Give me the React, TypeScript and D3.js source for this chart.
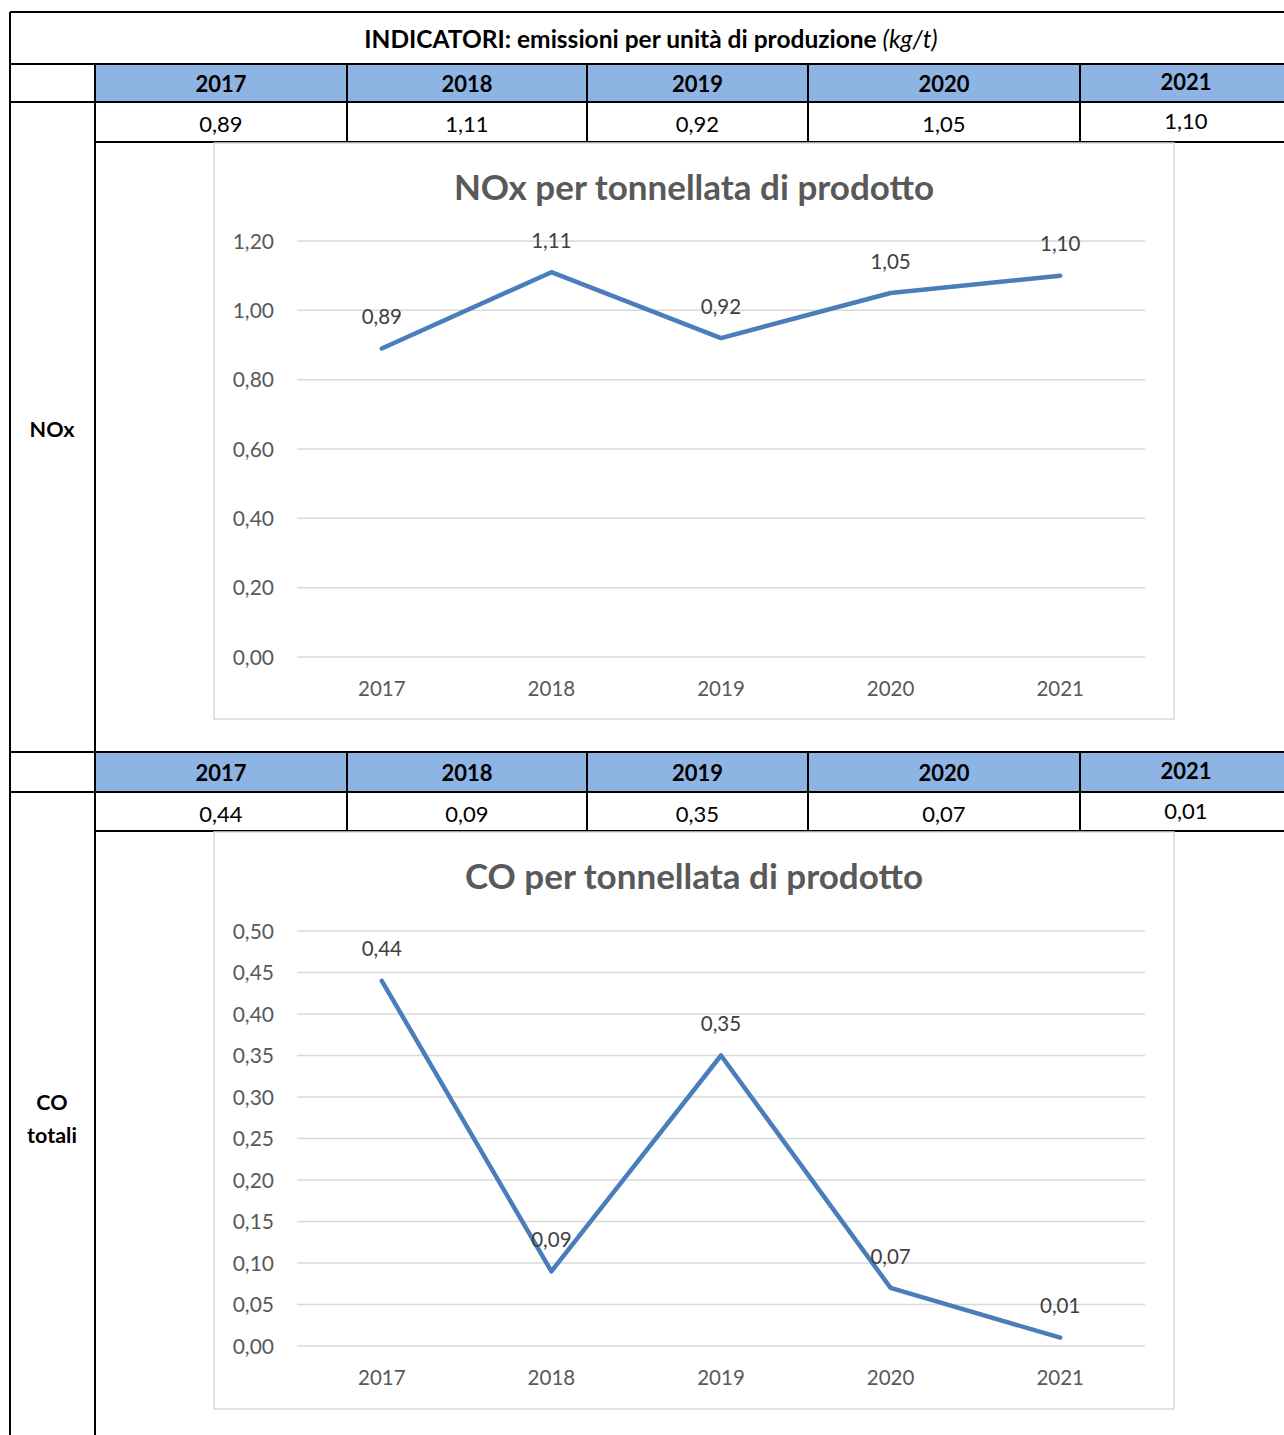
import React from "react";
import * as d3 from "d3";

// Years shown in both tables and on both chart x axes
const years = ["2017", "2018", "2019", "2020", "2021"];
// Emission indicators (kg/t)
const noxValues = [0.89, 1.11, 0.92, 1.05, 1.1];
const coValues = [0.44, 0.09, 0.35, 0.07, 0.01];
// Axis ticks
const noxTicks = [0, 0.2, 0.4, 0.6, 0.8, 1.0, 1.2];
const coTicks = [0, 0.05, 0.1, 0.15, 0.2, 0.25, 0.3, 0.35, 0.4, 0.45, 0.5];
// Texts
const tableTitle = "INDICATORI: emissioni per unità di produzione ";
const tableUnit = "(kg/t)";
const noxTitle = "NOx per tonnellata di prodotto";
const coTitle = "CO per tonnellata di prodotto";
const noxRowLabel = ["NOx"];
const coRowLabel = ["CO", "totali"];

const W = 1284;
const H = 1435;
const FONT = "Lato, 'Open Sans', sans-serif";
const LINE_BLUE = "#4a7ebb";
const HEADER_BLUE = "#8eb4e3";
const GRID = "#d9d9d9";
const AXIS_TEXT = "#595959";
// vertical nudge so that middle-anchored text sits on the row centres
const DY = 2.5;

const itLocale = d3.formatLocale({
  decimal: ",",
  thousands: ".",
  grouping: [3],
  currency: ["€", ""],
});
const fmt2 = itLocale.format(".2f");

// Column edges of the table (left label column + five year columns)
const colEdges = [10, 95, 347, 587, 808, 1080, 1292];

type ChartProps = {
  frame: { x: number; y: number; w: number; h: number };
  title: string;
  values: number[];
  ticks: number[];
  yMax: number;
  plotTop: number;
  plotBottom: number;
};

function LineChart({ frame, title, values, ticks, yMax, plotTop, plotBottom }: ChartProps) {
  const x = d3.scalePoint<string>().domain(years).range([297, 1145]).padding(0.5);
  const y = d3.scaleLinear().domain([0, yMax]).range([plotBottom, plotTop]);
  const line = d3
    .line<number>()
    .x((_, i) => x(years[i]) as number)
    .y((d) => y(d));
  return (
    <g>
      <rect
        x={frame.x}
        y={frame.y}
        width={frame.w}
        height={frame.h}
        fill="#fff"
        stroke={GRID}
        strokeWidth={1.5}
      />
      <text
        x={frame.x + frame.w / 2}
        y={frame.y + 45 + DY + 1}
        textAnchor="middle"
        dominantBaseline="middle"
        fontFamily={FONT}
        fontWeight={700}
        fontSize={35}
        fill={AXIS_TEXT}
      >
        {title}
      </text>
      {ticks.map((t) => (
        <g key={t}>
          <line x1={297} x2={1145} y1={y(t)} y2={y(t)} stroke={GRID} strokeWidth={1.5} />
          <text
            x={274}
            y={y(t) + DY}
            textAnchor="end"
            dominantBaseline="middle"
            fontFamily={FONT}
            fontSize={21}
            fill={AXIS_TEXT}
          >
            {fmt2(t)}
          </text>
        </g>
      ))}
      {years.map((yr) => (
        <text
          key={yr}
          x={x(yr)}
          y={plotBottom + 31 + DY}
          textAnchor="middle"
          dominantBaseline="middle"
          fontFamily={FONT}
          fontSize={20.5}
          fill={AXIS_TEXT}
        >
          {yr}
        </text>
      ))}
      <path
        d={line(values) || ""}
        fill="none"
        stroke={LINE_BLUE}
        strokeWidth={4.5}
        strokeLinejoin="round"
        strokeLinecap="round"
      />
      {values.map((v, i) => (
        <text
          key={i}
          x={x(years[i])}
          y={y(v) - 32 + DY}
          textAnchor="middle"
          dominantBaseline="middle"
          fontFamily={FONT}
          fontSize={20.5}
          fill="#404040"
        >
          {fmt2(v)}
        </text>
      ))}
    </g>
  );
}

type BlockProps = {
  headerTop: number;
  valTop: number;
  valBottom: number;
  blockBottom: number;
  values: number[];
  rowLabel: string[];
  labelY: number;
};

function TableBlock({ headerTop, valTop, valBottom, blockBottom, values, rowLabel, labelY }: BlockProps) {
  const mids = years.map((_, i) => (colEdges[i + 1] + colEdges[i + 2]) / 2);
  return (
    <g>
      <rect x={95} y={headerTop} width={W - 95} height={valTop - headerTop} fill={HEADER_BLUE} />
      {years.map((yr, i) => (
        <text
          key={yr}
          x={mids[i]}
          y={(headerTop + valTop) / 2 + 1 + DY - (i === 4 ? 2 : 0)}
          textAnchor="middle"
          dominantBaseline="middle"
          fontFamily={FONT}
          fontWeight={700}
          fontSize={22}
          fill="#000"
        >
          {yr}
        </text>
      ))}
      {values.map((v, i) => (
        <text
          key={i}
          x={mids[i]}
          y={(valTop + valBottom) / 2 + 2 + DY - (i === 4 ? 3 : 0)}
          textAnchor="middle"
          dominantBaseline="middle"
          fontFamily={FONT}
          fontSize={22}
          fill="#000"
        >
          {fmt2(v)}
        </text>
      ))}
      <line x1={10} x2={W} y1={headerTop} y2={headerTop} stroke="#000" strokeWidth={2} />
      <line x1={10} x2={W} y1={valTop} y2={valTop} stroke="#000" strokeWidth={2} />
      <line x1={95} x2={W} y1={valBottom} y2={valBottom} stroke="#000" strokeWidth={2} />
      {colEdges.slice(2, 6).map((cx) => (
        <line key={cx} x1={cx} x2={cx} y1={headerTop} y2={valBottom} stroke="#000" strokeWidth={2} />
      ))}
      <line x1={95} x2={95} y1={headerTop} y2={blockBottom} stroke="#000" strokeWidth={2} />
      {rowLabel.map((s, i) => (
        <text
          key={s}
          x={52}
          y={labelY + i * 33 + DY}
          textAnchor="middle"
          dominantBaseline="middle"
          fontFamily={FONT}
          fontWeight={700}
          fontSize={21.5}
          fill="#000"
        >
          {s}
        </text>
      ))}
    </g>
  );
}

export default function App() {
  return (
    <div style={{ position: "absolute", left: 0, top: 0 }}>
      <svg width={W} height={H} style={{ display: "block", background: "#fff" }}>
        <rect x={0} y={0} width={W} height={H} fill="#fff" />
        {/* table title row */}
        <text
          x={651}
          y={39 + DY}
          textAnchor="middle"
          dominantBaseline="middle"
          fontFamily={FONT}
          fontSize={24.5}
          fill="#000"
        >
          <tspan fontWeight={700}>{tableTitle}</tspan>
          <tspan fontStyle="italic">{tableUnit}</tspan>
        </text>
        <line x1={10} x2={W} y1={12} y2={12} stroke="#000" strokeWidth={2} />
        <line x1={10} x2={10} y1={12} y2={H} stroke="#000" strokeWidth={2} />

        <TableBlock
          headerTop={64}
          valTop={102}
          valBottom={142}
          blockBottom={752}
          values={noxValues}
          rowLabel={noxRowLabel}
          labelY={429}
        />
        <LineChart
          frame={{ x: 214, y: 143, w: 960, h: 576 }}
          title={noxTitle}
          values={noxValues}
          ticks={noxTicks}
          yMax={1.2}
          plotTop={241}
          plotBottom={657}
        />

        <TableBlock
          headerTop={752}
          valTop={792}
          valBottom={831}
          blockBottom={H}
          values={coValues}
          rowLabel={coRowLabel}
          labelY={1102}
        />
        <LineChart
          frame={{ x: 214, y: 832, w: 960, h: 577 }}
          title={coTitle}
          values={coValues}
          ticks={coTicks}
          yMax={0.5}
          plotTop={931}
          plotBottom={1346}
        />
      </svg>
    </div>
  );
}
